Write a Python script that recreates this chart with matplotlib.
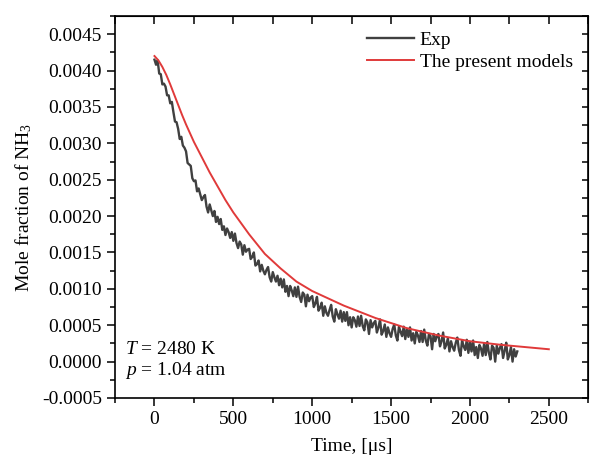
import numpy as np
import matplotlib
matplotlib.use("Agg")
import matplotlib.pyplot as plt
from matplotlib.ticker import MultipleLocator, FormatStrFormatter

plt.rcParams['font.family'] = ['Liberation Serif', 'DejaVu Serif']
plt.rcParams['mathtext.fontset'] = 'custom'
plt.rcParams['mathtext.rm'] = 'Liberation Serif'
plt.rcParams['mathtext.it'] = 'Liberation Serif:italic'
plt.rcParams['axes.unicode_minus'] = False

# experimental trace, 10 us step, values in 1e-5 mole fraction
exp_t0, exp_dt = 0, 10
exp_vals = [
    415, 408, 414, 396, 395, 381, 382, 378, 366, 366,
    355, 357, 343, 330, 329, 320, 306, 309, 297, 294,
    289, 273, 271, 269, 252, 248, 249, 234, 238, 230,
    222, 226, 229, 213, 205, 216, 208, 200, 207, 192,
    199, 189, 196, 181, 186, 174, 183, 178, 170, 178,
    166, 176, 163, 156, 165, 161, 147, 160, 151, 154,
    155, 141, 144, 150, 132, 134, 139, 124, 133, 125,
    120, 126, 130, 116, 110, 123, 116, 110, 118, 105,
    114, 102, 113, 96, 104, 90, 104, 98, 90, 102,
    89, 103, 89, 82, 95, 92, 76, 92, 83, 88,
    90, 75, 80, 89, 70, 74, 81, 63, 76, 67,
    63, 71, 78, 62, 55, 72, 65, 59, 70, 55,
    68, 56, 68, 50, 61, 47, 61, 57, 48, 62,
    49, 63, 49, 43, 58, 54, 38, 57, 47, 53,
    56, 40, 47, 58, 37, 42, 51, 34, 47, 39,
    34, 45, 51, 36, 29, 48, 41, 35, 48, 31,
    45, 34, 47, 29, 39, 25, 41, 36, 27, 42,
    27, 44, 29, 22, 38, 35, 17, 38, 28, 35,
    38, 21, 28, 40, 18, 23, 32, 14, 28, 20,
    15, 26, 33, 16, 8, 29, 21, 16, 30, 12,
    27, 14, 29, 9, 20, 5, 23, 18, 8, 25,
    9, 27, 12, 3, 22, 19, 0, 22, 11, 19,
    24, 5, 15, 26, 3, 9, 20, 0, 17, 7,
    14,
]

# model curve
model_t = [0, 25, 50, 75, 100, 125, 150, 175, 200, 250, 300, 350, 400, 450,
           500, 600, 700, 800, 900, 1000, 1100, 1200, 1400, 1600, 1800,
           2000, 2200, 2400, 2500]
model_v = [0.00420, 0.00414, 0.00405, 0.00394, 0.00381, 0.00367, 0.00353,
           0.00339, 0.00326, 0.00302, 0.00281, 0.00260, 0.00241, 0.00222,
           0.00205, 0.00175, 0.00148, 0.00128, 0.00110, 0.00097, 0.00087,
           0.00077, 0.00060, 0.00046, 0.00036, 0.00028, 0.00023, 0.00019,
           0.00017]

exp_t = exp_t0 + exp_dt * np.arange(len(exp_vals))
exp_v = np.array(exp_vals) * 1e-5

fig = plt.figure(figsize=(5.93, 4.71), dpi=100)
ax = fig.add_axes([0.194, 0.155, 0.798, 0.811])

ax.plot(exp_t, exp_v, color='#404040', lw=1.7, label='Exp')
ax.plot(model_t, model_v, color='#e03a3a', lw=1.4, label='The present models')

ax.set_xlim(-250, 2750)
ax.set_ylim(-0.0005, 0.00475)
ax.xaxis.set_major_locator(MultipleLocator(500))
ax.xaxis.set_minor_locator(MultipleLocator(250))
ax.yaxis.set_major_locator(MultipleLocator(0.0005))
ax.yaxis.set_minor_locator(MultipleLocator(0.00025))
ax.yaxis.set_major_formatter(FormatStrFormatter('%.4f'))

fs = 14
ax.tick_params(which='major', direction='out', length=6, width=1.1, labelsize=fs)
ax.tick_params(which='minor', direction='out', length=3.5, width=1.1)
for s in ax.spines.values():
    s.set_linewidth(1.2)

top = ax.secondary_xaxis('top')
top.xaxis.set_major_locator(MultipleLocator(500))
top.xaxis.set_minor_locator(MultipleLocator(250))
top.tick_params(which='both', direction='in', length=6, width=1.1, labeltop=False)
right = ax.secondary_yaxis('right')
right.yaxis.set_major_locator(MultipleLocator(0.0005))
right.yaxis.set_minor_locator(MultipleLocator(0.00025))
right.tick_params(which='both', direction='in', length=4, width=1.1, labelright=False)

ax.set_xlabel('Time, [μs]', fontsize=fs, labelpad=7)
ax.set_ylabel('Mole fraction of NH$_3$', fontsize=fs, labelpad=6)

ax.text(0.02, 0.126, '$T$ = 2480 K', transform=ax.transAxes, fontsize=fs, va='center')
ax.text(0.02, 0.071, '$p$ = 1.04 atm', transform=ax.transAxes, fontsize=fs, va='center')

ax.legend(loc='upper right', frameon=False, fontsize=fs, handlelength=2.4,
          labelspacing=0.2, handletextpad=0.3, borderaxespad=0.4)

fig.savefig('out.png', dpi=100)
